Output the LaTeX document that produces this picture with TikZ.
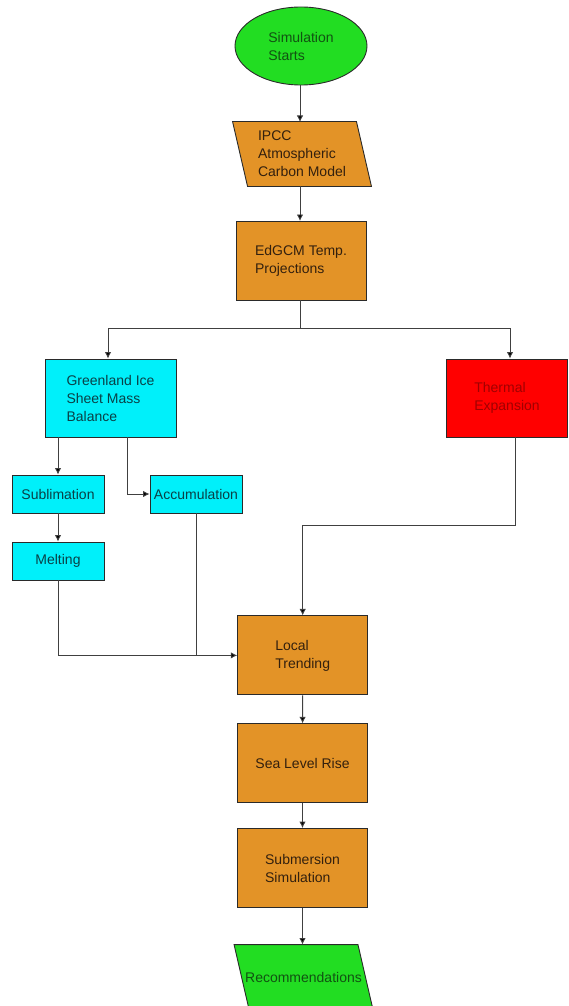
\documentclass[tikz,border=0pt]{standalone}
\usepackage{fontspec}
\setmainfont{Liberation Sans}
\usetikzlibrary{shapes.geometric,arrows.meta,calc,backgrounds}
\definecolor{orng}{HTML}{E39327}
\definecolor{cyn}{HTML}{00F0FA}
\definecolor{grn}{HTML}{22DD22}
\definecolor{rd}{HTML}{FF0000}
\definecolor{bordc}{HTML}{2A2A2A}
\definecolor{linec}{HTML}{404040}
\definecolor{otxt}{HTML}{33200E}
\definecolor{ctxt}{HTML}{0A4046}
\definecolor{gtxt}{HTML}{125212}
\definecolor{rtxt}{HTML}{A00000}
\tikzset{
  base/.style={font=\fontsize{14}{18}\selectfont, align=left, inner sep=0pt, draw=bordc, line width=0.9pt},
  obox/.style={base, rectangle, fill=orng, text=otxt, minimum width=130, minimum height=79},
  cbox/.style={base, rectangle, fill=cyn, text=ctxt},
  rbox/.style={base, rectangle, fill=rd, text=rtxt, minimum width=121, minimum height=78},
  gell/.style={base, ellipse, fill=grn, text=gtxt, minimum width=132, minimum height=78},
  para/.style={base, rectangle, draw=none, minimum width=123, minimum height=64},
  conn/.style={draw=linec, line width=0.9pt},
  arr/.style={conn, -{Latex[length=6.5pt,width=6.5pt,fill=black]}},
}
\begin{document}
\begin{tikzpicture}[x=1pt,y=-1pt]
\useasboundingbox (0,0) rectangle (568,1006);
% nodes
\node[gell] (start) at (301,46) {Simulation\\Starts};
\node[para, text=otxt] (ipcc) at (302,154) {IPCC\\Atmospheric\\Carbon Model};
\node[obox] (edgcm) at (301,260.5) {EdGCM Temp.\\Projections};
\node[cbox, minimum width=131, minimum height=78] (green) at (110.5,398) {Greenland Ice\\Sheet Mass\\Balance};
\node[rbox] (thermal) at (507,398) {Thermal\\Expansion};
\node[cbox, minimum width=92, minimum height=38] (subl) at (58,494) {Sublimation};
\node[cbox, minimum width=92, minimum height=38] (accum) at (196,494) {Accumulation};
\node[cbox, minimum width=92, minimum height=38] (melt) at (58,561) {Melting};
\node[obox] (local) at (302.7,655.4) {Local\\Trending};
\node[obox] (slr) at (302.5,763.3) {Sea Level Rise};
\node[obox] (sub) at (302.5,868) {Submersion\\Simulation};
\node[para, text=gtxt] (rec) at (303.5,977) {Recommendations};
% parallelogram outlines
\begin{pgfonlayer}{background}
\filldraw[fill=orng, draw=bordc, line width=0.9pt]
  ($(ipcc.north west)+(-7.5,0)$) -- ($(ipcc.north east)+(-7.5,0)$) --
  ($(ipcc.south east)+(7.5,0)$) -- ($(ipcc.south west)+(7.5,0)$) -- cycle;
\filldraw[fill=grn, draw=bordc, line width=0.9pt]
  ($(rec.north west)+(-7.5,0)$) -- ($(rec.north east)+(-7.5,0)$) --
  ($(rec.south east)+(7.5,0)$) -- ($(rec.south west)+(7.5,0)$) -- cycle;
\end{pgfonlayer}
% connectors
\coordinate (ipcctop) at (300,122);
\draw[arr] (start.south -| ipcctop) -- (ipcctop);
\coordinate (edgtop) at (300,221);
\draw[arr] (ipcc.south -| edgtop) -- (edgtop);
\coordinate (split) at (300,328);
\draw[conn] (edgcm.south -| split) -- (split);
\draw[arr] (split) -| ([xshift=-2.5]green.north);
\draw[arr] (split) -| ([xshift=3]thermal.north);
\draw[arr] (subl.north |- green.south) -- (subl.north);
\draw[arr] ([xshift=16.5]green.south) |- (accum.west);
\draw[arr] (subl) -- (melt);
\draw[arr] ([xshift=8]thermal.south) -- ++(0,88) -| (local.north);
\draw[arr] (melt.south) |- (local.west);
\coordinate (join) at (accum.south |- local.west);
\draw[conn] (accum.south) -- (join);
\draw[arr] (local) -- (slr);
\draw[arr] (slr) -- (sub);
\draw[arr] (sub.south) -- (sub.south |- rec.north);
\end{tikzpicture}
\end{document}
